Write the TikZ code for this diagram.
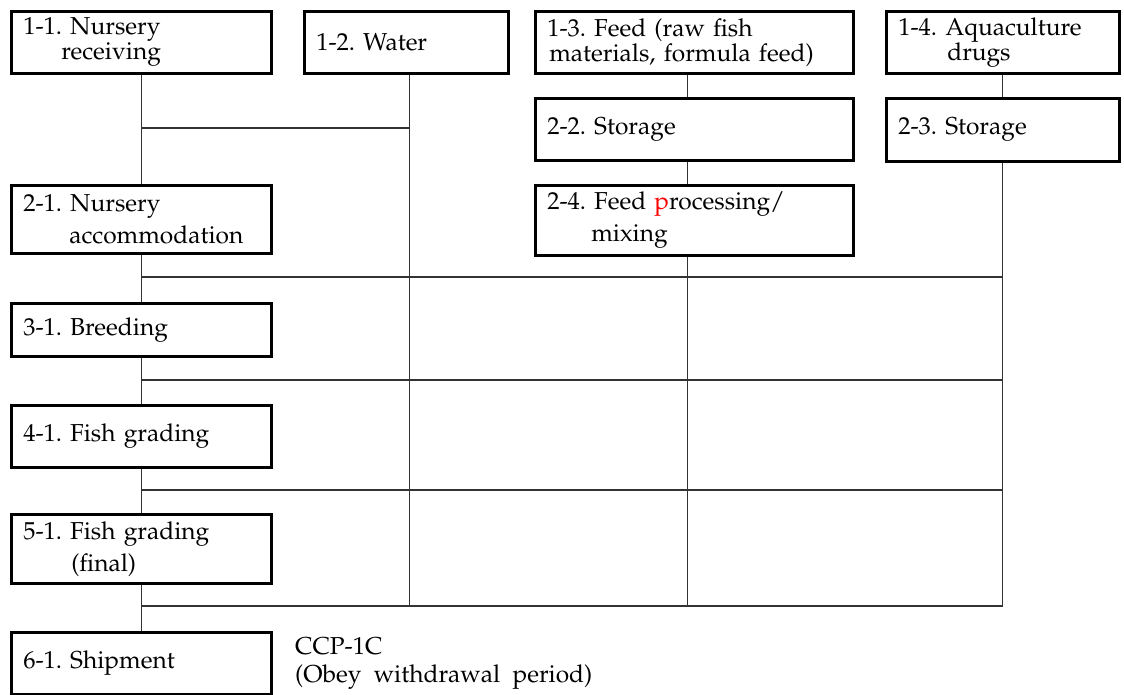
\documentclass[tikz,border=0pt]{standalone}
\usepackage[T1]{fontenc}
\usepackage{mathpazo}
\usepackage{xcolor}
\newcommand\fsA{\fontsize{24.5}{25}\selectfont\spaceskip=.5em\relax}
\newcommand\fsB{\fontsize{24.5}{32}\selectfont\spaceskip=.5em\relax}
\newcommand\fsC{\fontsize{24.5}{28}\selectfont\spaceskip=.5em\relax}
\tikzset{
  box/.style={draw=black, line width=2.6pt, fill=white, anchor=north west,
    inner xsep=12pt, inner ysep=0pt, align=left, font=\fsA},
  conn/.style={draw=black!80, line width=1.3pt},
}
\begin{document}
\begin{tikzpicture}[x=1pt,y=-1pt]
\useasboundingbox (0,0) rectangle (1124,695);
\fill[white] (0,0) rectangle (1124,695);
% top row
\node[box, minimum width=260pt, minimum height=62pt, text width=236pt] (n11) at (10,10)
  {1-1.~Nursery\\\hspace*{38pt}receiving};
\node[box, minimum width=204pt, minimum height=62pt, text width=180pt] (n12) at (303,10)
  {1-2.~Water};
\node[box, minimum width=318pt, minimum height=62pt, text width=294pt] (n13) at (534,10)
  {1-3.~Feed (raw fish\\\hspace*{2pt}materials, formula feed)};
\node[box, minimum width=233pt, minimum height=62pt, text width=209pt] (n14) at (885,10)
  {1-4.~Aquaculture\\\hspace*{49pt}drugs};
% second row
\node[box, minimum width=318pt, minimum height=62pt, text width=294pt] (n22) at (534,97)
  {2-2.~Storage};
\node[box, minimum width=233pt, minimum height=63pt, text width=209pt] (n23) at (885,97)
  {2-3.~Storage};
\node[box, font=\fsB, minimum width=260pt, minimum height=68pt, text width=236pt] (n21) at (10,184)
  {2-1.~Nursery\\\hspace*{46pt}accommodation};
\node[box, font=\fsB, minimum width=318pt, minimum height=70pt, text width=294pt] (n24) at (534,184)
  {2-4.~Feed \textcolor{red}{p}rocessing/\\\hspace*{44pt}mixing};
% main column
\node[box, minimum width=260pt, minimum height=53pt, text width=236pt] (n31) at (10,302)
  {3-1.~Breeding};
\node[box, minimum width=260pt, minimum height=62pt, text width=236pt] (n41) at (10,404)
  {4-1.~Fish grading};
\node[box, font=\fsB, minimum width=260pt, minimum height=69pt, text width=236pt] (n51) at (10,513)
  {5-1.~Fish grading\\\hspace*{48pt}(final)};
\node[box, minimum width=260pt, minimum height=62pt, text width=236pt] (n61) at (10,631)
  {6-1.~Shipment};
\node[anchor=west, inner sep=0pt, align=left, font=\fsC] (ccp) at (295,663)
  {CCP-1C\\(Obey withdrawal period)};
% connectors
\coordinate (w0) at ([xshift=3pt]n12.south);
\coordinate (f0) at ([xshift=-7pt]n24.south);
\draw[conn] (n11.south) -- (n21.north);
\draw[conn] (w0) |- (n11.south |- 0,128);
\draw[conn] (w0) -- (w0 |- 0,606);
\draw[conn] ([xshift=-7pt]n13.south) -- ([xshift=-7pt]n22.north);
\draw[conn] ([xshift=-7pt]n22.south) -- ([xshift=-7pt]n24.north);
\draw[conn] (f0) -- (f0 |- 0,606);
\draw[conn] (n14.south) -- (n23.north);
\draw[conn] (n23.south) -- (n23.south |- 0,606);
\draw[conn] (n21.south) -- (n31.north);
\draw[conn] (n31.south) -- (n41.north);
\draw[conn] (n41.south) -- (n51.north);
\draw[conn] (n51.south) -- (n61.north);
\foreach \yy in {277,380,490,606}
  \draw[conn] (n21.south |- 0,\yy) -- (n23.south |- 0,\yy);
\end{tikzpicture}
\end{document}
